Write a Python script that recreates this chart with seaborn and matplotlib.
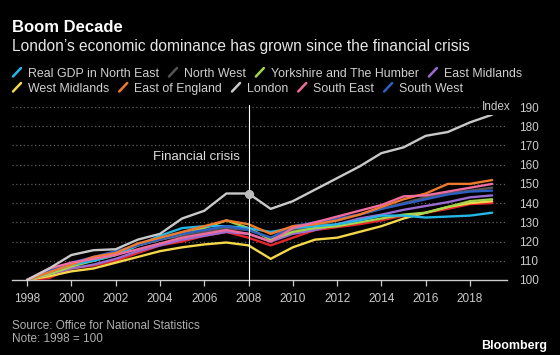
import matplotlib
matplotlib.use("Agg")
import matplotlib.pyplot as plt
import numpy as np
import pandas as pd
import seaborn as sns
from matplotlib.lines import Line2D

# ---------------- data ----------------
years = list(range(1998, 2020))
north_east = [100, 104, 108, 110, 113, 118, 123, 127, 128, 128, 127, 125, 127, 128, 129, 131, 133.5, 133.5, 132.5, 133, 133.5, 135]
north_west = [100, 104, 108, 111, 114, 118, 121, 123, 125, 127, 126, 122, 126, 128, 131, 134, 137, 140, 143, 145, 146.5, 148]
yorkshire = [100, 103, 107, 110, 113, 118, 121, 124, 127, 131, 127, 121, 125, 127, 128, 130, 132, 134, 135, 138, 141, 142]
east_midlands = [100, 103, 106, 108, 111, 115, 118, 121, 123, 125, 124, 120, 124, 126, 129, 132, 134, 136.5, 138.5, 140.5, 143, 144]
west_midlands = [100, 102, 104.5, 106, 109, 112, 115, 117, 118.5, 119.5, 118, 111, 117, 121, 122, 125, 128, 132, 135, 138, 140, 141]
east_of_england = [100, 104, 108, 112, 114, 119, 122, 125, 128, 131, 129, 124, 128, 129, 131, 134, 138, 142, 145, 150, 150, 152]
london = [100, 106, 113, 115.5, 116, 121, 124, 132, 136, 145, 145, 137, 141, 147, 153, 159, 166, 169, 175, 177, 182, 186]
south_east = [100, 106, 109, 111, 113, 116, 119, 122, 124, 126, 124, 120, 127, 130, 133, 136, 139, 143.5, 144, 146, 148, 150]
south_west = [100, 105, 109, 112, 115, 118, 121, 124, 126, 128, 126, 122, 128, 130, 132, 134, 137, 139.5, 142, 144.5, 146, 146.5]
wales = [100, 101, 106, 107.5, 110, 114, 118, 120, 123, 125, 122, 118, 122, 126, 127.5, 129, 131, 133.5, 135, 137, 139.5, 140]

legend_names = ["Real GDP in North East", "North West", "Yorkshire and The Humber", "East Midlands",
                "West Midlands", "East of England", "London", "South East", "South West"]
series = {
    "Real GDP in North East": north_east,
    "North West": north_west,
    "Yorkshire and The Humber": yorkshire,
    "East Midlands": east_midlands,
    "West Midlands": west_midlands,
    "East of England": east_of_england,
    "London": london,
    "South East": south_east,
    "South West": south_west,
    "Wales": wales,
}
colors = {
    "Real GDP in North East": "#23b6e6",
    "North West": "#555555",
    "Yorkshire and The Humber": "#a3d64c",
    "East Midlands": "#9a6bd0",
    "West Midlands": "#f4d84a",
    "East of England": "#f07a2b",
    "London": "#c9c9c9",
    "South East": "#ef6c9f",
    "South West": "#2f5fc0",
    "Wales": "#e4262c",
}
draw_order = ["North West", "Wales", "West Midlands", "East Midlands", "Yorkshire and The Humber",
              "Real GDP in North East", "South West", "East of England", "South East", "London"]

x_ticks = list(range(1998, 2019, 2))
y_ticks = list(range(100, 191, 10))
crisis_year = 2008
crisis_value = 145

df = pd.DataFrame([(r, y, v) for r in draw_order for y, v in zip(years, series[r])],
                  columns=["region", "year", "value"])

# ---------------- style ----------------
sns.set_theme(style="dark")
plt.rcParams["font.family"] = ["Liberation Sans", "DejaVu Sans"]

W, H = 560, 355
fig = plt.figure(figsize=(W / 100, H / 100), dpi=100, facecolor="black")
ax_l, ax_r, ax_b, ax_t = 12, 507, 280, 107
ax = fig.add_axes([ax_l / W, 1 - ax_b / H, (ax_r - ax_l) / W, (ax_b - ax_t) / H])
ax.set_facecolor("black")

for v in y_ticks[1:]:
    ax.axhline(v, color="#5e5e5e", lw=0.9, ls=(0, (1, 2)), zorder=0)

sns.lineplot(data=df, x="year", y="value", hue="region", hue_order=draw_order,
             palette=colors, linewidth=1.7, legend=False, estimator=None, ax=ax, zorder=3)

ax.set_xlim(1997.32, 2019.67)
ax.set_ylim(100, 190)
ax.set_xlabel("")
ax.set_ylabel("")
ax.set_xticks(x_ticks)
ax.set_xticklabels([str(t) for t in x_ticks])
ax.set_yticks(y_ticks)
ax.set_yticklabels([str(t) for t in y_ticks])
ax.yaxis.tick_right()
ax.tick_params(axis="x", colors="#cccccc", direction="out", length=4, width=0.9, pad=5,
               labelsize=8.5, labelcolor="#cccccc", bottom=True)
ax.tick_params(axis="y", length=0, pad=9, labelsize=8.5, labelcolor="#cccccc", right=False)
ax.grid(False)
for s in ["top", "left", "right"]:
    ax.spines[s].set_visible(False)
ax.spines["bottom"].set_color("#cccccc")
ax.spines["bottom"].set_linewidth(1.0)

# financial crisis marker
ax.plot([crisis_year, crisis_year], [100, 191], color="white", lw=0.8, zorder=4, clip_on=False)
ax.scatter([crisis_year], [crisis_value], s=32, color="#bdbdbd", zorder=5)
ax.text(2007.6, 164, "Financial crisis", ha="right", va="center", color="#dddddd", fontsize=9.5)

# Index label
fig.text(511 / W, 1 - 107 / H, "Index", ha="right", va="center", color="#cccccc", fontsize=8.5,
         bbox=dict(facecolor="black", edgecolor="none", pad=1.5))

# titles
fig.text(12 / W, 1 - 32 / H, "Boom Decade", ha="left", va="baseline", color="white",
         fontsize=12, fontweight="bold")
fig.text(12 / W, 1 - 51 / H, "London\u2019s economic dominance has grown since the financial crisis",
         ha="left", va="baseline", color="#e6e6e6", fontsize=11.2)

# legend (flow layout)
fig.canvas.draw()
renderer = fig.canvas.get_renderer()
rows = [(legend_names[:4], 77), (legend_names[4:], 92)]
for names, base in rows:
    x = 12
    for name in names:
        fig.add_artist(Line2D([(x + 1) / W, (x + 9) / W], [1 - (base - 0.5) / H, 1 - (base - 9) / H],
                              color=colors[name], lw=1.8, transform=fig.transFigure))
        t = fig.text((x + 16) / W, 1 - base / H, name, ha="left", va="baseline",
                     color="#d0d0d0", fontsize=8.9)
        bb = t.get_window_extent(renderer=renderer)
        x = x + 16 + bb.width + 9

# footer
fig.text(12 / W, 1 - 329 / H, "Source: Office for National Statistics", ha="left", va="baseline",
         color="#b0b0b0", fontsize=8.5)
fig.text(12 / W, 1 - 342 / H, "Note: 1998 = 100", ha="left", va="baseline",
         color="#b0b0b0", fontsize=8.5)
fig.text(547 / W, 1 - 349 / H, "Bloomberg", ha="right", va="baseline", color="white",
         fontsize=9, fontweight="bold")

fig.savefig("out.png", dpi=100, facecolor="black")
